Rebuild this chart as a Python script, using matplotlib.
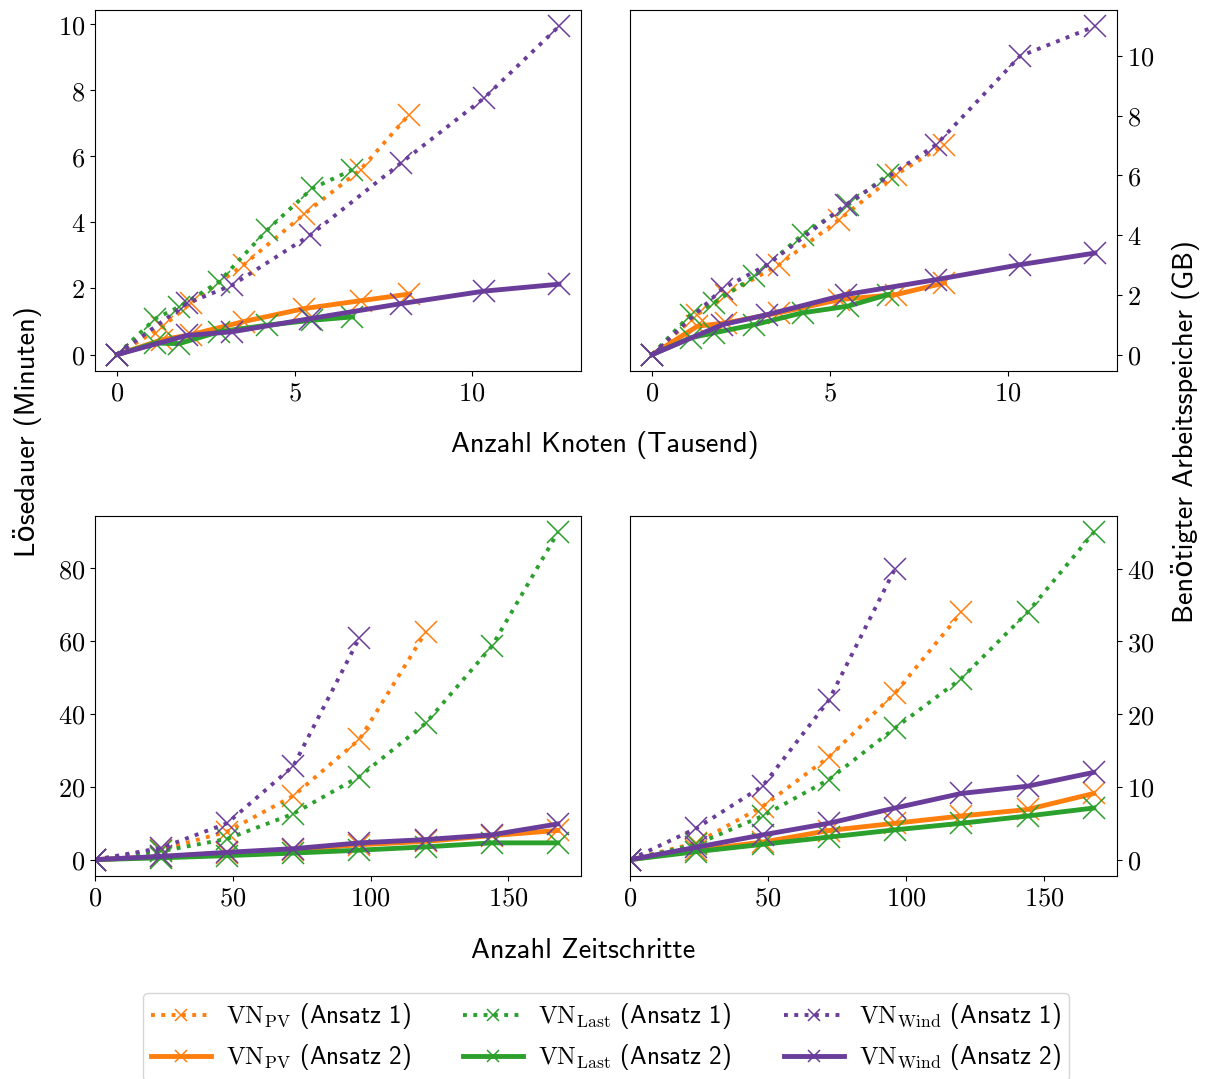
import matplotlib
matplotlib.use("Agg")
import matplotlib.pyplot as plt
from matplotlib.ticker import FuncFormatter, MultipleLocator

plt.rcParams['mathtext.fontset'] = 'cm'
plt.rcParams['axes.unicode_minus'] = False

# ---------------- data ----------------
# Top row: Anzahl Knoten (Tausend)
knoten_pv = [0, 1.27, 2.07, 3.57, 5.26, 6.86, 8.22]
knoten_last = [0, 1.08, 1.74, 2.87, 4.23, 5.5, 6.63]
knoten_wind = [0, 1.97, 3.24, 5.45, 7.99, 10.34, 12.45]

# Lösedauer (Minuten) vs Knoten
zeit_k_pv_a1 = [0, 0.84, 1.55, 2.72, 4.24, 5.6, 7.25]
zeit_k_pv_a2 = [0, 0.45, 0.6, 1.0, 1.39, 1.63, 1.83]
zeit_k_last_a1 = [0, 1.09, 1.44, 2.2, 3.77, 5.03, 5.59]
zeit_k_last_a2 = [0, 0.35, 0.33, 0.69, 0.89, 1.04, 1.14]
zeit_k_wind_a1 = [0, 1.55, 2.1, 3.62, 5.79, 7.76, 9.93]
zeit_k_wind_a2 = [0, 0.58, 0.69, 1.09, 1.54, 1.92, 2.13]

# Arbeitsspeicher (GB) vs Knoten
mem_k_pv_a1 = [0, 1.34, 2.01, 3.01, 4.52, 6.03, 7.03]
mem_k_pv_a2 = [0, 0.95, 1.06, 1.4, 1.84, 2.01, 2.4]
mem_k_last_a1 = [0, 1.34, 1.73, 2.62, 4.02, 5.0, 6.03]
mem_k_last_a2 = [0, 0.56, 0.73, 1.0, 1.4, 1.62, 2.01]
mem_k_wind_a1 = [0, 2.2, 3.01, 5.02, 7.03, 9.99, 10.99]
mem_k_wind_a2 = [0, 1.0, 1.34, 2.01, 2.51, 3.01, 3.4]

# Bottom row: Anzahl Zeitschritte
schritte = [0, 24, 48, 72, 96, 120, 144, 168]

zeit_t_pv_a1 = [0, 2.7, 7.7, 17.5, 33.0, 62.4]
zeit_t_pv_a2 = [0, 0.8, 1.8, 2.7, 4.1, 5.0, 6.6, 8.0]
zeit_t_last_a1 = [0, 2.3, 5.7, 12.6, 22.8, 37.4, 58.5, 89.8]
zeit_t_last_a2 = [0, 0.5, 1.1, 1.8, 2.6, 3.5, 4.6, 4.6]
zeit_t_wind_a1 = [0, 3.2, 10.0, 25.7, 60.9]
zeit_t_wind_a2 = [0, 0.9, 2.0, 3.0, 4.6, 5.5, 6.8, 9.8]

mem_t_pv_a1 = [0, 2.3, 7.3, 14.1, 22.9, 34.0]
mem_t_pv_a2 = [0, 1.3, 2.4, 4.0, 5.0, 6.0, 6.9, 9.1]
mem_t_last_a1 = [0, 2.1, 6.0, 11.0, 18.1, 24.9, 34.0, 45.0]
mem_t_last_a2 = [0, 1.1, 2.1, 3.1, 4.1, 5.0, 6.0, 7.1]
mem_t_wind_a1 = [0, 4.3, 10.1, 21.9, 40.0]
mem_t_wind_a2 = [0, 1.7, 3.4, 5.0, 7.1, 9.1, 10.1, 12.0]

names = [r"$\mathrm{VN}_{\mathrm{PV}}$", r"$\mathrm{VN}_{\mathrm{Last}}$", r"$\mathrm{VN}_{\mathrm{Wind}}$"]
colors = ["#ff7f0e", "#2ca02c", "#6a3d9a"]

# ---------------- figure ----------------
W, H = 1208, 1079
fig = plt.figure(figsize=(W / 100, H / 100), dpi=100)

def ax_rect(l, t, r, b):
    return [l / W, 1 - b / H, (r - l) / W, (b - t) / H]

ax_tl = fig.add_axes(ax_rect(95, 10, 581, 371))
ax_tr = fig.add_axes(ax_rect(630, 10, 1117, 371))
ax_bl = fig.add_axes(ax_rect(95, 516, 581, 876))
ax_br = fig.add_axes(ax_rect(630, 516, 1117, 876))

SANS = ['cmss10', 'DejaVu Sans']
TICK_FS = 19
LABEL_FS = 20.4

fmt = FuncFormatter(lambda v, p: r"$%d$" % round(v))

def draw(ax, xs_list, a1_list, a2_list):
    lines = []
    for i in range(3):
        l1, = ax.plot(xs_list[i][:len(a1_list[i])], a1_list[i], linestyle=':', lw=2.8,
                      color=colors[i], marker='x', ms=16, mew=1.1,
                      label=names[i] + " (Ansatz 1)")
        l2, = ax.plot(xs_list[i][:len(a2_list[i])], a2_list[i], linestyle='-', lw=3.5,
                      color=colors[i], marker='x', ms=16, mew=1.1,
                      label=names[i] + " (Ansatz 2)")
        lines += [l1, l2]
    ax.xaxis.set_major_formatter(fmt)
    ax.yaxis.set_major_formatter(fmt)
    ax.tick_params(labelsize=TICK_FS)
    return lines

knoten = [knoten_pv, knoten_last, knoten_wind]
t3 = [schritte, schritte, schritte]

handles = draw(ax_tl, knoten, [zeit_k_pv_a1, zeit_k_last_a1, zeit_k_wind_a1],
               [zeit_k_pv_a2, zeit_k_last_a2, zeit_k_wind_a2])
draw(ax_tr, knoten, [mem_k_pv_a1, mem_k_last_a1, mem_k_wind_a1],
     [mem_k_pv_a2, mem_k_last_a2, mem_k_wind_a2])
draw(ax_bl, t3, [zeit_t_pv_a1, zeit_t_last_a1, zeit_t_wind_a1],
     [zeit_t_pv_a2, zeit_t_last_a2, zeit_t_wind_a2])
draw(ax_br, t3, [mem_t_pv_a1, mem_t_last_a1, mem_t_wind_a1],
     [mem_t_pv_a2, mem_t_last_a2, mem_t_wind_a2])

for ax in (ax_tl, ax_tr):
    ax.xaxis.set_major_locator(MultipleLocator(5))
    ax.yaxis.set_major_locator(MultipleLocator(2))
for ax in (ax_bl, ax_br):
    ax.xaxis.set_major_locator(MultipleLocator(50))
    ax.set_xlim(left=0)
ax_bl.yaxis.set_major_locator(MultipleLocator(20))
ax_br.yaxis.set_major_locator(MultipleLocator(10))

for ax in (ax_tr, ax_br):
    ax.yaxis.tick_right()

# axis labels
fig.text(28 / W, 1 - 432 / H, "Lösedauer (Minuten)", rotation=90, ha='center', va='center',
         fontsize=LABEL_FS, family=SANS)
fig.text(1186 / W, 1 - 432 / H, "Benötigter Arbeitsspeicher (GB)", rotation=90, ha='center',
         va='center', fontsize=LABEL_FS, family=SANS)
fig.text(605 / W, 1 - 445 / H, "Anzahl Knoten (Tausend)", ha='center', va='center',
         fontsize=LABEL_FS, family=SANS)
fig.text(583 / W, 1 - 950 / H, "Anzahl Zeitschritte", ha='center', va='center',
         fontsize=LABEL_FS, family=SANS)

leg = fig.legend(handles=handles, loc='upper center', bbox_to_anchor=(606 / W, 1 - 993 / H),
                 ncol=3, prop={'family': SANS, 'size': 18},
                 handlelength=2.4, handletextpad=0.6, markerscale=0.5, columnspacing=2.1,
                 borderaxespad=0, frameon=True, labelspacing=0.45, borderpad=0.33)

fig.savefig("out.png", dpi=100)
